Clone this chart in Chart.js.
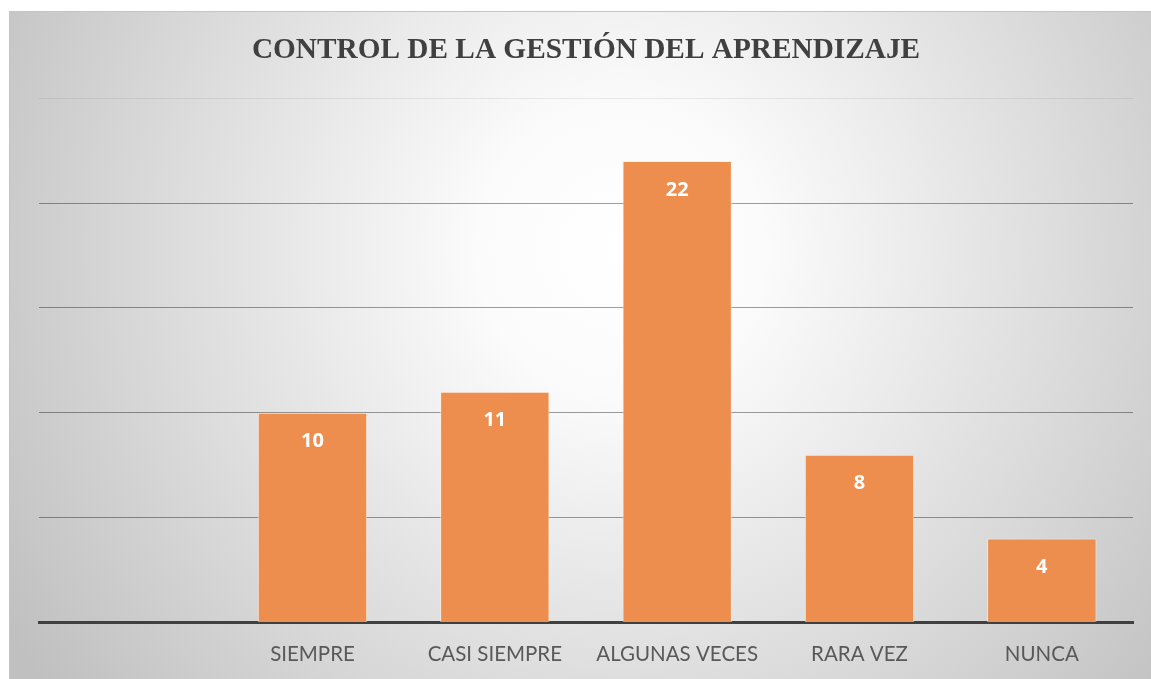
<!DOCTYPE html>
<html>
<head>
<meta charset="utf-8">
<script src="https://cdn.jsdelivr.net/npm/chart.js@4/dist/chart.umd.min.js"></script>
<style>
	html, body { margin: 0; padding: 0; background: #fff; }
	#wrap { width: 1151px; height: 679px; position: relative; }
</style>
</head>
<body>
<div id="wrap"><canvas id="chart"></canvas></div>
<script>
// data
var chartTitle = 'CONTROL DE LA GESTIÓN DEL APRENDIZAJE';
var categories = ['', 'SIEMPRE', 'CASI SIEMPRE', 'ALGUNAS VECES', 'RARA VEZ', 'NUNCA'];
var counts = [null, 10, 11, 22, 8, 4];
var yMax = 25;
var yStep = 5;

// grey box with a soft radial light behind the chart
var backdrop = {
	id: 'backdrop',
	beforeDraw: function(chart){
		var ctx = chart.ctx;
		ctx.save();
		var g = ctx.createRadialGradient(620, 250, 0, 620, 250, 720);
		g.addColorStop(0, '#ffffff');
		g.addColorStop(0.2, '#fbfbfb');
		g.addColorStop(1, '#c0c0c0');
		ctx.fillStyle = g;
		ctx.fillRect(9, 11, 1142, 668);
		ctx.strokeStyle = '#c4c4c4';
		ctx.lineWidth = 1;
		ctx.strokeRect(9.5, 11.5, 1142, 668);
		ctx.restore();
	}
};

// white value labels just inside the top of each bar
var barValues = {
	id: 'barValues',
	afterDatasetsDraw: function(chart){
		var ctx = chart.ctx;
		var meta = chart.getDatasetMeta(0);
		ctx.save();
		ctx.fillStyle = '#ffffff';
		ctx.font = 'bold 20px "Open Sans", sans-serif';
		ctx.textAlign = 'center';
		ctx.textBaseline = 'middle';
		meta.data.forEach(function(bar, i){
			var v = counts[i];
			if(v === null) return;
			ctx.fillText(String(v), bar.x, bar.y + 29);
		});
		ctx.restore();
	}
};

new Chart(document.getElementById('chart'), {
	type: 'bar',
	data: {
		labels: categories,
		datasets: [{
			data: counts,
			backgroundColor: '#ED8D4E',
			borderColor: 'rgba(255,235,220,0.7)',
			borderWidth: 1,
			categoryPercentage: 0.6,
			barPercentage: 1
		}]
	},
	options: {
		responsive: true,
		maintainAspectRatio: false,
		animation: false,
		layout: { padding: { left: 39, right: 18, top: 15, bottom: -8 } },
		plugins: {
			legend: { display: false },
			tooltip: { enabled: false },
			title: {
				display: true,
				text: chartTitle,
				color: '#404040',
				font: { family: '"Liberation Serif", "Times New Roman", serif', size: 29.3, weight: 'bold' },
				padding: { top: 18, bottom: 30 }
			}
		},
		scales: {
			x: {
				grid: { display: false, drawTicks: false },
				border: { display: true, color: '#404040', width: 3 },
				ticks: {
					color: '#595959',
					font: { family: 'Lato, "Open Sans", sans-serif', size: 20.5 },
					padding: 20,
					maxRotation: 0,
					autoSkip: false
				}
			},
			y: {
				min: 0,
				max: yMax,
				ticks: { display: false, stepSize: yStep },
				border: { display: false },
				grid: {
					drawTicks: false,
					lineWidth: 1,
					color: function(c){
						if(c.tick.value === 0) return 'rgba(0,0,0,0)';
						if(c.tick.value === yMax) return 'rgba(0,0,0,0.07)';
						return 'rgba(0,0,0,0.38)';
					}
				}
			}
		}
	},
	plugins: [backdrop, barValues]
});
</script>
</body>
</html>
